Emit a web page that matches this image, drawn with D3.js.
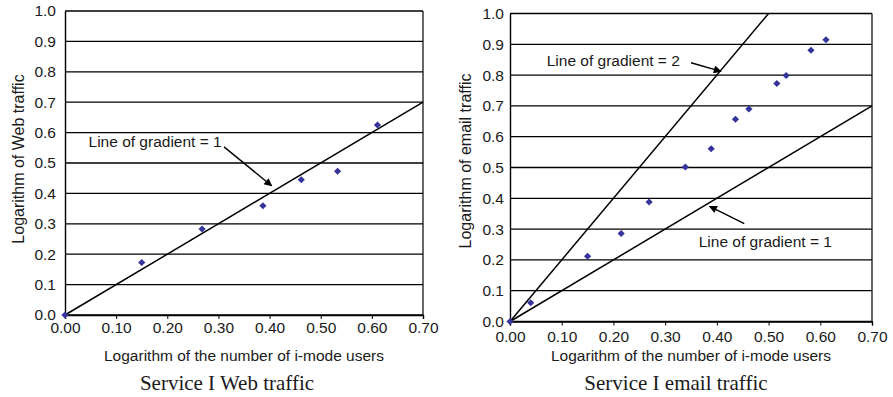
<!DOCTYPE html>
<html lang="en">
<head>
  <meta charset="UTF-8">
  <title>Service I traffic</title>
  <style>
    body { margin: 0; background: #fff; }
    text { font-family: "Liberation Sans", Arial, sans-serif; fill: #1a1a1a; }
    .caption { font-family: "Liberation Serif", "Times New Roman", serif; }
  </style>
</head>
<body>
  <script src="https://d3js.org/d3.v7.min.js"></script>
  <script>
    // Data
    let webUsers = [0.00, 0.15, 0.268, 0.387, 0.462, 0.533, 0.611];
    let webTraffic = [0.00, 0.173, 0.283, 0.359, 0.445, 0.473, 0.625];

    let mailUsers = [0.00, 0.040, 0.150, 0.215, 0.269, 0.339, 0.389, 0.436, 0.462, 0.516, 0.534, 0.582, 0.611];
    let mailTraffic = [0.00, 0.061, 0.212, 0.286, 0.388, 0.502, 0.561, 0.657, 0.690, 0.773, 0.799, 0.881, 0.915];

    let xTicks = [0, 0.1, 0.2, 0.3, 0.4, 0.5, 0.6, 0.7];
    let yTicks = [0, 0.1, 0.2, 0.3, 0.4, 0.5, 0.6, 0.7, 0.8, 0.9, 1.0];

    let svgWidth = 893;
    let svgHeight = 397;

    let svg = d3.select("body")
      .append("svg")
      .attr("width", svgWidth)
      .attr("height", svgHeight);

    svg.append("defs").append("marker")
      .attr("id", "arrow")
      .attr("viewBox", "0 0 10 10")
      .attr("refX", 9)
      .attr("refY", 5)
      .attr("markerWidth", 11)
      .attr("markerHeight", 8)
      .attr("markerUnits", "userSpaceOnUse")
      .attr("orient", "auto")
      .append("path")
      .attr("d", "M0,0 L10,5 L0,10 Z")
      .attr("fill", "#000");

    function drawPanel(opt) {
      let x = d3.scaleLinear().domain([0, 0.7]).range([opt.left, opt.right]);
      let y = d3.scaleLinear().domain([0, 1]).range([opt.bottom, opt.top]);
      let g = svg.append("g");

      // horizontal grid lines
      g.selectAll(".grid")
        .data(yTicks)
        .enter()
        .append("line")
        .attr("x1", opt.left)
        .attr("x2", opt.right)
        .attr("y1", d => y(d))
        .attr("y2", d => y(d))
        .attr("stroke", "#000")
        .attr("stroke-width", 1.3);

      // right border
      g.append("line")
        .attr("x1", opt.right).attr("x2", opt.right)
        .attr("y1", opt.top).attr("y2", opt.bottom)
        .attr("stroke", "#000").attr("stroke-width", 1.2);

      // axes
      let xAxis = g.append("g")
        .attr("transform", `translate(0,${opt.bottom})`)
        .call(d3.axisBottom(x).tickValues(xTicks).tickFormat(d3.format(".2f")).tickSize(4).tickPadding(opt.xPad));
      let yAxis = g.append("g")
        .attr("transform", `translate(${opt.left},0)`)
        .call(d3.axisLeft(y).tickValues(yTicks).tickFormat(d3.format(".1f")).tickSize(0).tickPadding(opt.yPad));
      [xAxis, yAxis].forEach(a => {
        a.select(".domain").attr("stroke", "#000").attr("stroke-width", 1.4);
        a.selectAll(".tick line").attr("stroke", "#000");
        a.selectAll("text").style("font-size", "15.5px").attr("fill", "#1a1a1a")
          .style("font-family", "'Liberation Sans', Arial, sans-serif");
      });

      // reference lines
      opt.lines.forEach(s => {
        let xEnd = Math.min(0.7, 1 / s);
        g.append("line")
          .attr("x1", x(0)).attr("y1", y(0))
          .attr("x2", x(xEnd)).attr("y2", y(xEnd * s))
          .attr("stroke", "#000").attr("stroke-width", 1.5);
      });

      // points
      g.selectAll(".pt")
        .data(opt.xs.map((v, i) => [v, opt.ys[i]]))
        .enter()
        .append("path")
        .attr("d", "M0,-3.5 L3.6,0 L0,3.5 L-3.6,0 Z")
        .attr("transform", d => `translate(${x(d[0])},${y(d[1])})`)
        .attr("fill", "#34349c");

      // annotations
      opt.notes.forEach(n => {
        g.append("text")
          .attr("x", x(n.tx)).attr("y", y(n.ty))
          .attr("dy", "0.35em")
          .style("font-size", "15.5px")
          .text(n.label);
        g.append("line")
          .attr("x1", x(n.ax)).attr("y1", y(n.ay))
          .attr("x2", x(n.bx)).attr("y2", y(n.by))
          .attr("stroke", "#000").attr("stroke-width", 1.4)
          .attr("marker-end", "url(#arrow)");
      });

      // titles
      g.append("text")
        .attr("x", (opt.left + opt.right) / 2)
        .attr("y", 361)
        .attr("text-anchor", "middle")
        .style("font-size", "15.5px")
        .text("Logarithm of the number of i-mode users");
      g.append("text")
        .attr("transform", `translate(${opt.yTitleX},${opt.yTitleY}) rotate(-90)`)
        .attr("text-anchor", "middle")
        .style("font-size", "16px")
        .text(opt.yTitle);
      g.append("text")
        .attr("class", "caption")
        .attr("x", (opt.left + opt.right) / 2 + opt.capShift)
        .attr("y", 390)
        .attr("text-anchor", "middle")
        .style("font-size", "21px")
        .text(opt.caption);
    }

    drawPanel({
      left: 65, right: 423, top: 11, bottom: 315, xPad: 3, yPad: 9,
      xs: webUsers, ys: webTraffic, lines: [1],
      notes: [{ label: "Line of gradient = 1", tx: 0.046, ty: 0.57, ax: 0.311, ay: 0.553, bx: 0.404, by: 0.425 }],
      yTitleX: 24, yTitleY: 159, yTitle: "Logarithm of Web traffic",
      caption: "Service I Web traffic", capShift: -17
    });

    drawPanel({
      left: 510, right: 872, top: 13.5, bottom: 321.5, xPad: 5, yPad: 6,
      xs: mailUsers, ys: mailTraffic, lines: [2, 1],
      notes: [
        { label: "Line of gradient = 2", tx: 0.071, ty: 0.847, ax: 0.35, ay: 0.84, bx: 0.408, by: 0.812 },
        { label: "Line of gradient = 1", tx: 0.365, ty: 0.260, ax: 0.453, ay: 0.318, bx: 0.386, by: 0.374 }
      ],
      yTitleX: 471, yTitleY: 161, yTitle: "Logarithm of email traffic",
      caption: "Service I email traffic", capShift: -15
    });
  </script>
</body>
</html>
